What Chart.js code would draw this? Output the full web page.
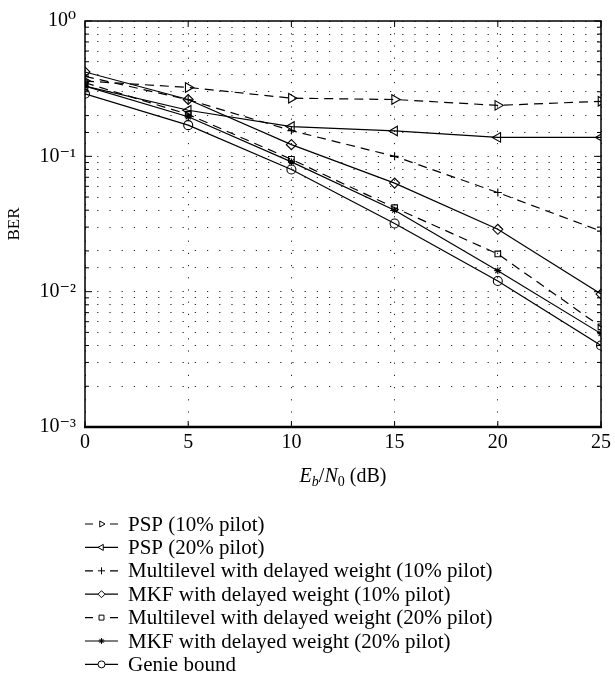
<!DOCTYPE html>
<html lang="en">
<head>
  <meta charset="UTF-8">
  <title>BER vs Eb/N0</title>
  <script src="https://cdn.jsdelivr.net/npm/chart.js"></script>
  <style>
    body {
      margin: 0;
      padding: 0;
      background: white;
    }

    #wrap {
      width: 615px;
      height: 678px;
    }
  </style>
</head>
<body>

<div id="wrap">
  <canvas id="berChart" width="615" height="678"></canvas>
</div>

<script>
// Eb/N0 values (dB)
const snr = [0, 5, 10, 15, 20, 25];

// BER
const psp10 = [0.36, 0.323, 0.269, 0.263, 0.238, 0.255];
const psp20 = [0.33, 0.219, 0.166, 0.154, 0.138, 0.138];
const multi10 = [0.39, 0.262, 0.155, 0.100, 0.054, 0.028];
const mkf10 = [0.42, 0.263, 0.122, 0.0634, 0.0289, 0.0096];
const multi20 = [0.35, 0.204, 0.095, 0.0417, 0.019, 0.0055];
const mkf20 = [0.33, 0.196, 0.091, 0.040, 0.0143, 0.0049];
const genie = [0.29, 0.17, 0.080, 0.0319, 0.012, 0.004];

const seriesLabels = [
  'PSP (10% pilot)',
  'PSP (20% pilot)',
  'Multilevel with delayed weight (10% pilot)',
  'MKF with delayed weight (10% pilot)',
  'Multilevel with delayed weight (20% pilot)',
  'MKF with delayed weight (20% pilot)',
  'Genie bound'
];

const xTicks = [0, 5, 10, 15, 20, 25];

const SERIF = "'Liberation Serif', 'DejaVu Serif', serif";
const dash = [9, 6];

function makeSet(label, values, style, rot, radius, dashed) {
  return {
    label: label,
    data: values.map((v, i) => ({ x: snr[i], y: v })),
    borderColor: 'black',
    borderWidth: 1.2,
    borderDash: dashed ? dash : [],
    pointStyle: style,
    pointRotation: rot,
    pointRadius: radius,
    pointBorderWidth: 1.1,
    pointBorderColor: 'black',
    pointBackgroundColor: style === 'star' ? 'black' : 'rgba(0,0,0,0)',
    fill: false,
    tension: 0
  };
}

const datasets = [
  makeSet(seriesLabels[0], psp10, 'triangle', 90, 5.5, true),
  makeSet(seriesLabels[1], psp20, 'triangle', -90, 5.5, false),
  makeSet(seriesLabels[2], multi10, 'cross', 0, 4, true),
  makeSet(seriesLabels[3], mkf10, 'rectRot', 0, 5, false),
  makeSet(seriesLabels[4], multi20, 'rect', 0, 4, true),
  makeSet(seriesLabels[5], mkf20, 'star', 0, 3.5, false),
  makeSet(seriesLabels[6], genie, 'circle', 0, 4.5, false)
];

function supNum(n) {
  const map = { '-': '\u207B', '0': '\u2070', '1': '\u00B9', '2': '\u00B2', '3': '\u00B3' };
  return String(n).split('').map(c => map[c] || c).join('');
}

// frame, inward ticks, x title and the stacked legend
const extras = {
  id: 'extras',
  afterDraw(chart) {
    const ctx = chart.ctx;
    const a = chart.chartArea;
    const xs = chart.scales.x;
    const ys = chart.scales.y;
    ctx.save();
    ctx.strokeStyle = 'black';

    // inward tick marks
    ctx.lineWidth = 1;
    ys.ticks.forEach(t => {
      const y = ys.getPixelForValue(t.value);
      const major = Math.abs(Math.log10(t.value) - Math.round(Math.log10(t.value))) < 1e-6;
      const len = major ? 7 : 4;
      ctx.beginPath();
      ctx.moveTo(a.left, y); ctx.lineTo(a.left + len, y);
      ctx.moveTo(a.right, y); ctx.lineTo(a.right - len, y);
      ctx.stroke();
    });
    xs.ticks.forEach(t => {
      const x = xs.getPixelForValue(t.value);
      ctx.beginPath();
      ctx.moveTo(x, a.bottom); ctx.lineTo(x, a.bottom - 6);
      ctx.moveTo(x, a.top); ctx.lineTo(x, a.top + 6);
      ctx.stroke();
    });

    // frame
    ctx.lineWidth = 1.5;
    ctx.strokeRect(a.left, a.top, a.right - a.left, a.bottom - a.top);
    ctx.lineWidth = 2.5;
    ctx.beginPath();
    ctx.moveTo(a.left - 1, a.bottom); ctx.lineTo(a.right + 1, a.bottom);
    ctx.stroke();

    // x axis title: Eb/N0 (dB)
    ctx.fillStyle = 'black';
    ctx.textBaseline = 'alphabetic';
    const base = 482;
    const parts = [
      { t: 'E', f: 'italic 20px ' + SERIF, dy: 0 },
      { t: 'b', f: 'italic 14px ' + SERIF, dy: 4 },
      { t: '/', f: '20px ' + SERIF, dy: 0 },
      { t: 'N', f: 'italic 20px ' + SERIF, dy: 0 },
      { t: '0', f: '14px ' + SERIF, dy: 4 },
      { t: ' (dB)', f: '20px ' + SERIF, dy: 0 }
    ];
    let total = 0;
    parts.forEach(p => { ctx.font = p.f; p.w = ctx.measureText(p.t).width; total += p.w; });
    let cx = (a.left + a.right) / 2 - total / 2;
    ctx.textAlign = 'left';
    parts.forEach(p => { ctx.font = p.f; ctx.fillText(p.t, cx, base + p.dy); cx += p.w; });

    // legend, one entry per row
    const rowTop = 524;
    const rowStep = 23.4;
    chart.data.datasets.forEach((ds, i) => {
      const y = rowTop + i * rowStep;
      ctx.strokeStyle = 'black';
      ctx.lineWidth = 1.2;
      ctx.setLineDash([]);
      ctx.beginPath();
      if (ds.borderDash.length) {
        ctx.moveTo(85, y); ctx.lineTo(93, y);
        ctx.moveTo(110, y); ctx.lineTo(118, y);
      } else {
        ctx.moveTo(85, y); ctx.lineTo(118, y);
      }
      ctx.stroke();
      ctx.fillStyle = ds.pointStyle === 'star' ? 'black' : 'white';
      ctx.lineWidth = 1;
      Chart.helpers.drawPoint(ctx, {
        pointStyle: ds.pointStyle,
        rotation: ds.pointRotation,
        radius: ds.pointStyle === 'star' ? 3 : 3.5,
        borderWidth: 1
      }, 101.5, y);
      ctx.fillStyle = 'black';
      ctx.font = '21px ' + SERIF;
      ctx.textBaseline = 'middle';
      ctx.fillText(ds.label, 128, y + 1);
    });
    ctx.restore();
  }
};

new Chart(document.getElementById('berChart').getContext('2d'), {
  type: 'line',
  data: { datasets },
  options: {
    responsive: false,
    animation: false,
    layout: { padding: { left: 0, right: 7, top: 14, bottom: 221 } },
    plugins: {
      legend: { display: false },
      tooltip: { enabled: false }
    },
    scales: {
      x: {
        type: 'linear',
        min: 0,
        max: 25,
        afterBuildTicks: scale => { scale.ticks = xTicks.map(v => ({ value: v })); },
        afterFit: scale => { scale.height = 30; },
        ticks: {
          padding: 4,
          color: 'black',
          font: { family: SERIF, size: 20 }
        },
        grid: { color: '#222', lineWidth: 1, drawTicks: false },
        border: { display: false, dash: [1.2, 11] }
      },
      y: {
        type: 'logarithmic',
        min: 0.001,
        max: 1,
        afterFit: scale => { scale.width = 85; },
        ticks: {
          autoSkip: false,
          padding: 9,
          color: 'black',
          font: { family: SERIF, size: 20 },
          callback: v => {
            const e = Math.log10(v);
            if (Math.abs(e - Math.round(e)) > 1e-6) return '';
            return '10' + supNum(Math.round(e));
          }
        },
        title: {
          display: true,
          text: 'BER',
          color: 'black',
          font: { family: SERIF, size: 17 },
          padding: { top: 4, bottom: 0 }
        },
        grid: { color: '#222', lineWidth: 1, drawTicks: false },
        border: { display: false, dash: [1.2, 11] }
      }
    }
  },
  plugins: [extras]
});
</script>

</body>
</html>
